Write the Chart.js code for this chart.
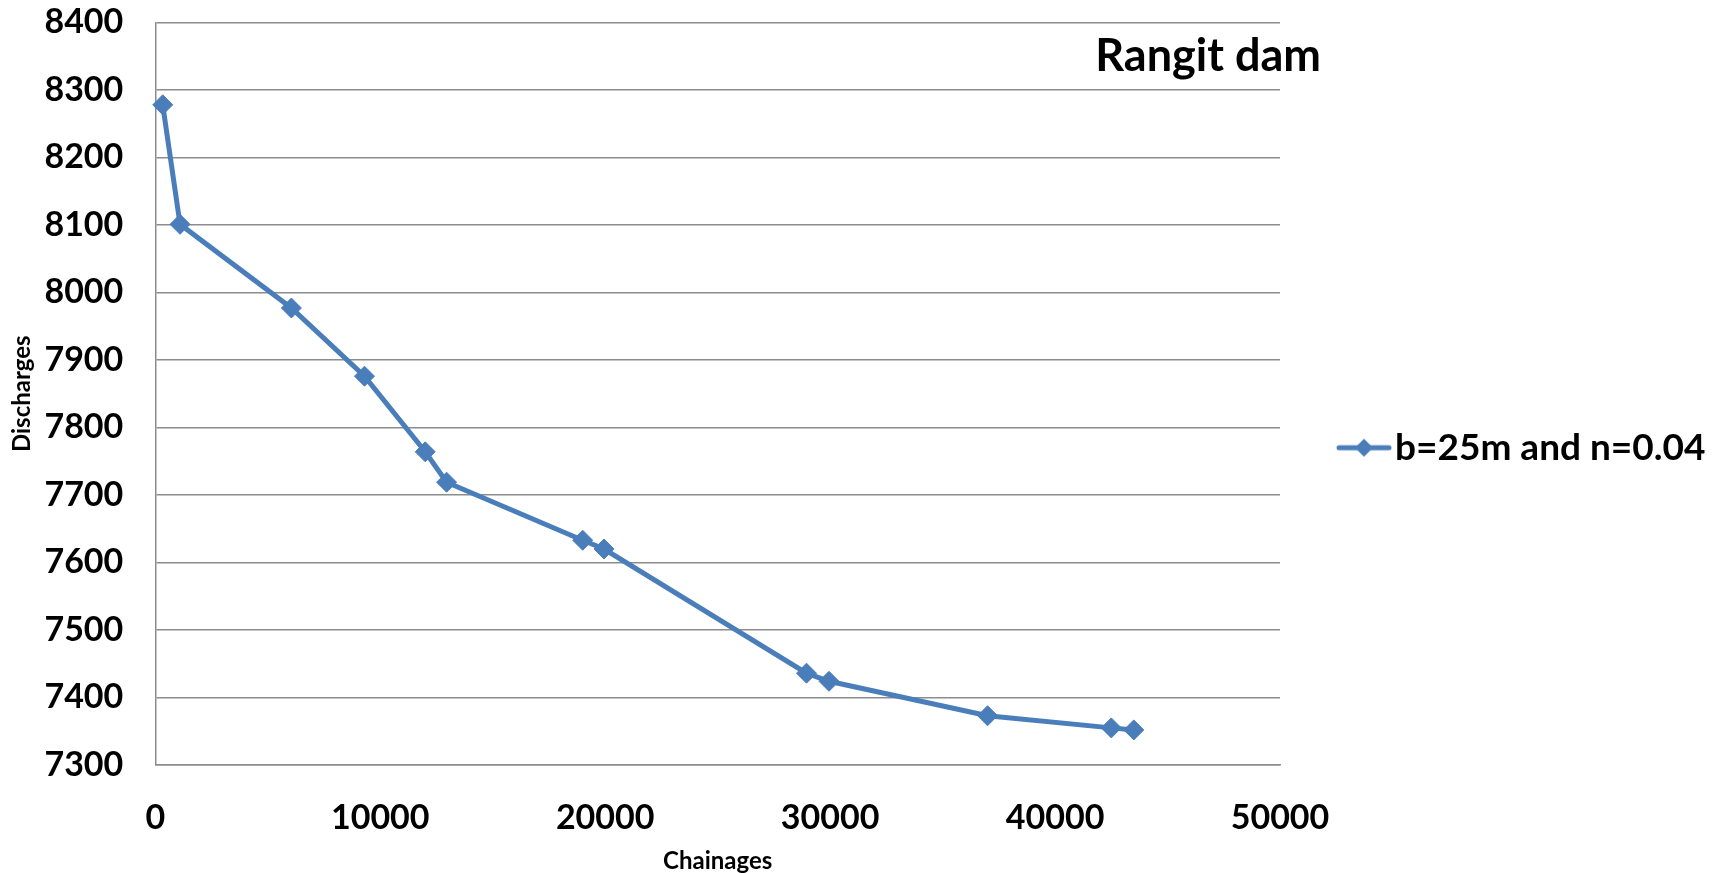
<!DOCTYPE html>
<html>
<head>
<meta charset="utf-8">
<title>Rangit dam</title>
<script src="https://cdn.jsdelivr.net/npm/chart.js@4.4.1/dist/chart.umd.min.js"></script>
<style>
  html, body { margin: 0; padding: 0; background: #fff; }
  #chart { display: block; }
</style>
</head>
<body>
<canvas id="chart" width="1729" height="873"></canvas>
<script>
// chainage (m) along the reach and the routed discharge at each station
var chainages = [330, 1100, 6050, 9300, 12000, 12950, 19000, 19950, 28950, 29950, 37000, 42500, 43500];
var discharges = [8278, 8101, 7977, 7876, 7764, 7719, 7633, 7620, 7436, 7424, 7373, 7355, 7352];
var seriesLabel = 'b=25m and n=0.04';

var xTickValues = [0, 10000, 20000, 30000, 40000, 50000];
var yTickValues = [7300, 7400, 7500, 7600, 7700, 7800, 7900, 8000, 8100, 8200, 8300, 8400];

var blue = '#4a7ebb';
var gridGrey = '#8c8c8c';
var fontFamily = 'Lato, "Open Sans", sans-serif';

var canvasW = 1729;
var plotRight = 1280;      // where the plot area should end
var legendFont = 37;
var legendPad = 71.5;      // gap between plot edge and legend swatch
var legendBox = 25;        // swatch slot width; the icon overhangs it a bit

var points = chainages.map(function(x, i) {
  return {x: x, y: discharges[i]};
});

// legend swatch: short line with a diamond in the middle
function makeLegendIcon() {
  var c = document.createElement('canvas');
  c.width = 56;
  c.height = 22;
  var g = c.getContext('2d');
  g.strokeStyle = blue;
  g.lineWidth = 5;
  g.lineCap = 'round';
  g.beginPath();
  g.moveTo(3, 11);
  g.lineTo(53, 11);
  g.stroke();
  g.fillStyle = blue;
  g.beginPath();
  g.moveTo(28, 2);
  g.lineTo(37, 11);
  g.lineTo(28, 20);
  g.lineTo(19, 11);
  g.closePath();
  g.fill();
  return c;
}
var legendIcon = makeLegendIcon();

// Chart.js sizes a right legend as pad + box + gap + text + 10, capped at a
// quarter of the free width (two side boxes); pick the right padding so the
// plot area still stops at plotRight either way
function legendRightPadding() {
  var g = document.createElement('canvas').getContext('2d');
  g.font = 'bold ' + legendFont + 'px ' + fontFamily;
  var w = legendPad + legendBox + legendFont / 2 + g.measureText(seriesLabel).width + 10;
  var right = canvasW - plotRight - w;
  if ((canvasW - right) / 4 < w) {
    right = canvasW - plotRight * 4 / 3;
  }
  return Math.max(0, right);
}

// chart caption sitting inside the plot, top right
var plotCaption = {
  id: 'plotCaption',
  afterDraw: function(chart, args, opts) {
    var ctx = chart.ctx;
    var area = chart.chartArea;
    ctx.save();
    ctx.font = 'bold ' + opts.size + 'px ' + fontFamily;
    ctx.fillStyle = '#000';
    ctx.textAlign = 'right';
    ctx.textBaseline = 'alphabetic';
    ctx.fillText(opts.text, area.right + opts.dx, area.top + opts.dy);
    ctx.restore();
  }
};

function fixTicks(values) {
  return function(scale) {
    scale.ticks = values.map(function(v) { return {value: v}; });
  };
}

function plainNumber(value) {
  return String(value);
}

var chart = new Chart(document.getElementById('chart'), {
  type: 'line',
  data: {
    datasets: [{
      label: seriesLabel,
      data: points,
      borderColor: blue,
      backgroundColor: blue,
      borderWidth: 5,
      tension: 0,
      pointStyle: 'rectRot',
      pointRadius: 10,
      pointHoverRadius: 10,
      pointBorderWidth: 1,
      pointBackgroundColor: blue,
      pointBorderColor: blue,
      clip: false
    }]
  },
  options: {
    responsive: false,
    animation: false,
    devicePixelRatio: 1,
    layout: {
      padding: {top: 22.5, right: legendRightPadding(), bottom: 0, left: 0}
    },
    scales: {
      x: {
        type: 'linear',
        min: 0,
        max: 50000,
        afterBuildTicks: fixTicks(xTickValues),
        afterFit: function(scale) {
          scale.height = 108;
          scale.paddingLeft = 0;
          scale.paddingRight = 0;
        },
        grid: {display: false, drawTicks: false},
        border: {display: true, color: gridGrey, width: 1.5},
        ticks: {
          padding: 33,
          color: '#000',
          maxRotation: 0,
          autoSkip: false,
          callback: plainNumber,
          font: {family: fontFamily, size: 34, weight: 'bold'}
        },
        title: {
          display: true,
          text: 'Chainages',
          color: '#000',
          padding: {top: 0, bottom: 0},
          font: {family: fontFamily, size: 24, weight: 'bold', lineHeight: 1}
        }
      },
      y: {
        type: 'linear',
        min: 7300,
        max: 8400,
        afterBuildTicks: fixTicks(yTickValues),
        afterFit: function(scale) {
          scale.width = 155.3;
          scale.paddingTop = 0;
          scale.paddingBottom = 0;
        },
        grid: {color: gridGrey, lineWidth: 1.5, drawTicks: false},
        border: {display: true, color: gridGrey, width: 1.5},
        ticks: {
          padding: 32,
          color: '#000',
          autoSkip: false,
          callback: plainNumber,
          font: {family: fontFamily, size: 34, weight: 'bold'}
        },
        title: {
          display: true,
          text: 'Discharges',
          color: '#000',
          padding: {top: 10, bottom: 0},
          font: {family: fontFamily, size: 24, weight: 'bold', lineHeight: 1}
        }
      }
    },
    plugins: {
      legend: {
        position: 'right',
        labels: {
          usePointStyle: true,
          pointStyleWidth: legendBox,
          padding: legendPad,
          color: '#000',
          font: {family: fontFamily, size: legendFont, weight: 'bold'},
          generateLabels: function(chart) {
            var items = Chart.defaults.plugins.legend.labels.generateLabels(chart);
            items.forEach(function(item) { item.pointStyle = legendIcon; });
            return items;
          }
        }
      },
      tooltip: {enabled: false},
      plotCaption: {text: 'Rangit dam', size: 45, dx: 41, dy: 48}
    }
  },
  plugins: [plotCaption]
});
</script>
</body>
</html>
